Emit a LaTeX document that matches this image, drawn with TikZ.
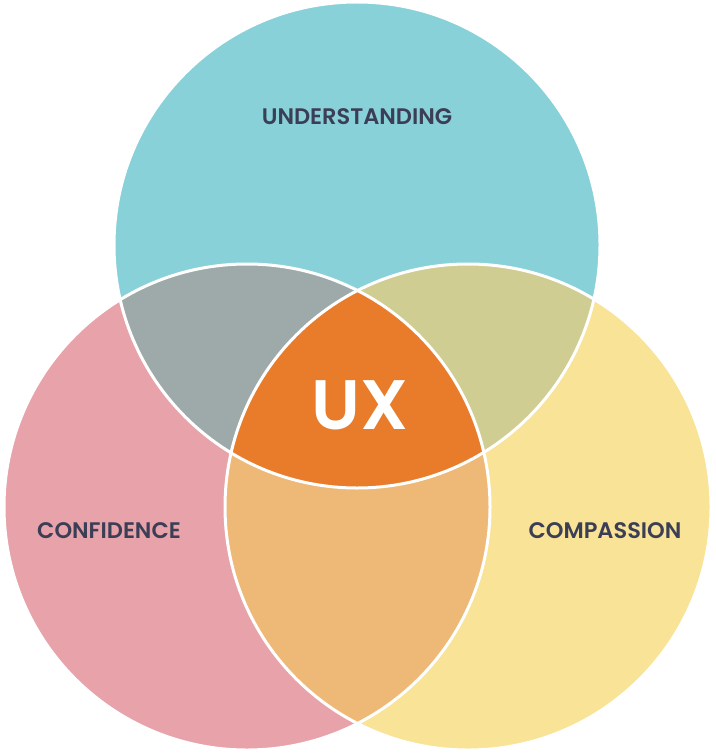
\documentclass[tikz,border=0pt]{standalone}
\usepackage{fontspec}
\setmainfont{Poppins}[BoldFont={Poppins SemiBold}]
\usepackage{tikz}
\definecolor{uxteal}{RGB}{136,209,216}
\definecolor{uxpink}{RGB}{232,162,170}
\definecolor{uxyellow}{RGB}{249,227,151}
\definecolor{uxgray}{RGB}{158,170,170}
\definecolor{uxolive}{RGB}{207,205,146}
\definecolor{uxpeach}{RGB}{238,184,119}
\definecolor{uxorange}{RGB}{232,124,43}
\definecolor{uxtext}{RGB}{59,62,85}
\tikzset{
  circlabel/.style={font=\fontsize{22.5}{22.5}\selectfont\bfseries,text=uxtext},
  sep/.style={draw=white,line width=3pt}
}

\begin{document}
\begin{tikzpicture}[x=1pt,y=-1pt]
  \useasboundingbox (0,0) rectangle (715,754);
  %% Three circles
  \fill[uxteal] (357,245) circle (243);
  \fill[uxpink] (247,507) circle (243);
  \fill[uxyellow] (468,507) circle (243);
  %% Pairwise overlaps
  \begin{scope}
    \clip (247,507) circle (243);
    \fill[uxgray] (357,245) circle (243);
  \end{scope}
  \begin{scope}
    \clip (468,507) circle (243);
    \fill[uxolive] (357,245) circle (243);
  \end{scope}
  \begin{scope}
    \clip (247,507) circle (243);
    \fill[uxpeach] (468,507) circle (243);
  \end{scope}
  %% Centre overlap
  \begin{scope}
    \clip (247,507) circle (243);
    \clip (468,507) circle (243);
    \fill[uxorange] (357,245) circle (243);
  \end{scope}
  %% White separators
  \draw[sep] (357,245) circle (243);
  \draw[sep] (247,507) circle (243);
  \draw[sep] (468,507) circle (243);

  %% Labels
  \node[circlabel] (und) at (357,117) {UNDERSTANDING};
  \node[circlabel] (conf) at (109,531) {CONFIDENCE};
  \node[circlabel] (comp) at (605,531) {COMPASSION};
  \node[font=\fontsize{70}{70}\selectfont\bfseries,text=white] (ux) at (360,405) {UX};
\end{tikzpicture}
\end{document}
